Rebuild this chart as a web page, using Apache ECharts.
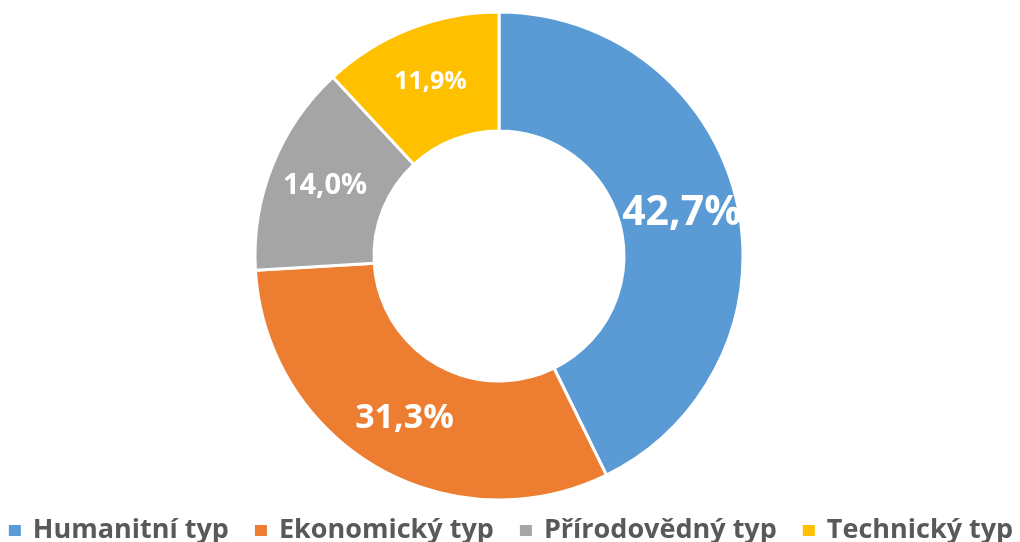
<!DOCTYPE html>
<html>
<head>
<meta charset="utf-8">
<script src="https://cdn.jsdelivr.net/npm/echarts@6/dist/echarts.min.js"></script>
<style>
  html, body { margin: 0; padding: 0; background: #fff; }
  #chart { width: 1020px; height: 542px; }
</style>
</head>
<body>
<div id="chart"></div>
<script>
// data
var categories = ["Humanitní typ", "Ekonomický typ", "Přírodovědný typ", "Technický typ"];
var shares = [42.7, 31.3, 14.0, 11.9];
var colors = ["#5B9BD5", "#ED7D31", "#A5A5A5", "#FFC000"];
var labelSizes = [41, 34, 29, 25];

var myChart = echarts.init(document.getElementById("chart"));

var pieData = categories.map(function (name, i) {
  return {
    name: name,
    value: shares[i],
    itemStyle: { color: colors[i] },
    label: { fontSize: labelSizes[i] },
  };
});

var option = {
  animation: false,
  legend: {
    bottom: -7,
    left: "center",
    icon: "rect",
    itemWidth: 14,
    itemHeight: 13,
    itemGap: 24,
    textStyle: {
      color: "#595959",
      fontSize: 27,
      fontWeight: "bold",
      fontFamily: "Open Sans",
      padding: [0, 0, 0, 6],
    },
    data: categories,
  },
  series: [
    {
      type: "pie",
      center: [499, 256],
      radius: [125, 244],
      startAngle: 90,
      clockwise: true,
      itemStyle: {
        borderColor: "#ffffff",
        borderWidth: 3,
      },
      label: {
        show: true,
        position: "inside",
        color: "#ffffff",
        fontWeight: "bold",
        fontFamily: "Open Sans",
        formatter: function (p) {
          return p.value.toFixed(1).replace(".", ",") + "%";
        },
      },
      labelLine: { show: false },
      emphasis: { disabled: true },
      data: pieData,
    },
  ],
};
myChart.setOption(option);
</script>
</body>
</html>
